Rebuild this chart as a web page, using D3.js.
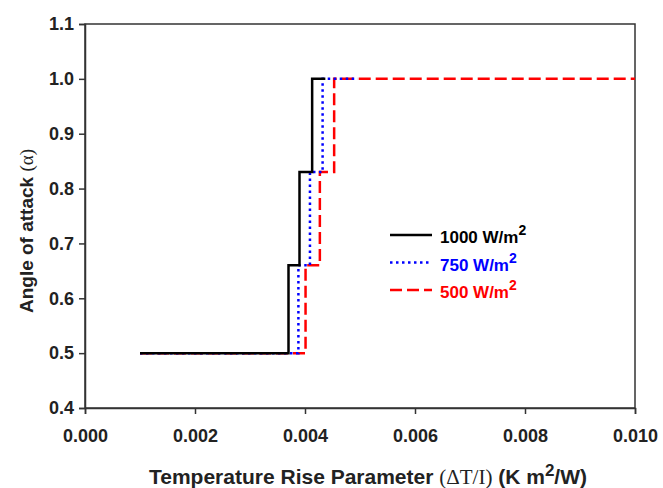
<!DOCTYPE html>
<html><head><meta charset="utf-8">
<script src="https://cdn.jsdelivr.net/npm/d3@7"></script>
<style>body{margin:0;background:#fff}svg{display:block}text{font-family:"Liberation Sans",Arial,sans-serif;font-weight:bold}</style>
</head><body>
<script>
const xTicks = [0.000, 0.002, 0.004, 0.006, 0.008, 0.010];
const yTicks = [0.4, 0.5, 0.6, 0.7, 0.8, 0.9, 1.0, 1.1];
const seriesNames = ["1000 W/m", "750 W/m", "500 W/m"];
const levels = [0.5, 0.66, 0.83, 1.0, 1.0];
const x1000 = [0.001, 0.0037, 0.0039, 0.00413, 0.00437];
const x750  = [0.001, 0.00388, 0.00409, 0.00432, 0.00496];
const x500  = [0.001, 0.00401, 0.00427, 0.00453, 0.010];
const colors = ["#000000", "#0000ff", "#ff0000"];
const dashes = [null, "2.5,3.5", "12,5"];

const W = 663, H = 488;
const m = {l: 85, r: 28, t: 24, b: 80};
const svg = d3.select("body").append("svg").attr("width", W).attr("height", H);
const x = d3.scaleLinear().domain([0, 0.010]).range([m.l, W - m.r]);
const y = d3.scaleLinear().domain([0.4, 1.1]).range([H - m.b, m.t]);

// frame
svg.append("rect").attr("x", x(0)).attr("y", y(1.1)).attr("width", x(0.010) - x(0)).attr("height", y(0.4) - y(1.1))
  .attr("fill", "none").attr("stroke", "#333").attr("stroke-width", 1.5);

const xAxis = svg.append("g").attr("transform", `translate(0,${y(0.4)})`)
  .call(d3.axisBottom(x).tickValues(xTicks).tickFormat(d3.format(".3f")).tickSize(6).tickPadding(15));
const yAxis = svg.append("g").attr("transform", `translate(${x(0)},0)`)
  .call(d3.axisLeft(y).tickValues(yTicks).tickFormat(d3.format(".1f")).tickSize(6).tickPadding(5));
[xAxis, yAxis].forEach(g => {
  g.select(".domain").attr("stroke", "#333").attr("stroke-width", 1.5);
  g.selectAll(".tick line").attr("stroke", "#333").attr("stroke-width", 1.5);
  g.selectAll(".tick text").attr("fill", "#222").style("font-size", "18px").style("font-family", "Liberation Sans, Arial, sans-serif").style("font-weight", "bold");
});

const line = d3.line().x(d => x(d[0])).y(d => y(d[1])).curve(d3.curveStepAfter);
const data = [x1000, x750, x500].map(xs => xs.map((v, i) => [v, levels[i]]));
[2, 1, 0].forEach(i => {
  svg.append("path").datum(data[i]).attr("d", line).attr("fill", "none")
    .attr("stroke", colors[i]).attr("stroke-width", 2.5)
    .attr("stroke-dasharray", dashes[i]);
});

// legend
seriesNames.forEach((name, i) => {
  const ly = 235 + i * 27.5;
  svg.append("line").attr("x1", 390).attr("x2", 432).attr("y1", ly).attr("y2", ly)
    .attr("stroke", colors[i]).attr("stroke-width", 2.5).attr("stroke-dasharray", dashes[i]);
  const t = svg.append("text").attr("x", 440).attr("y", ly + 8).attr("fill", colors[i]).style("font-size", "17px");
  t.append("tspan").text(name);
  t.append("tspan").attr("dy", -8).style("font-size", "14px").text("2");
});

// axis titles
const xt = svg.append("text").attr("x", 368).attr("y", 484).attr("text-anchor", "middle").attr("fill", "#222").style("font-size", "21px");
xt.append("tspan").text("Temperature Rise Parameter ");
xt.append("tspan").style("font-family", "Liberation Serif, Times New Roman, serif").style("font-weight", "normal").text("(ΔT/I)");
xt.append("tspan").text(" (K m");
xt.append("tspan").attr("dy", -8).style("font-size", "17px").text("2");
xt.append("tspan").attr("dy", 8).text("/W)");

const yt = svg.append("text").attr("transform", `translate(33,231) rotate(-90)`)
  .attr("text-anchor", "middle").attr("fill", "#222").style("font-size", "19px");
yt.append("tspan").text("Angle of attack  ");
yt.append("tspan").style("font-family", "Liberation Serif, Times New Roman, serif").style("font-weight", "normal").text("(α)");
</script>
</body></html>
